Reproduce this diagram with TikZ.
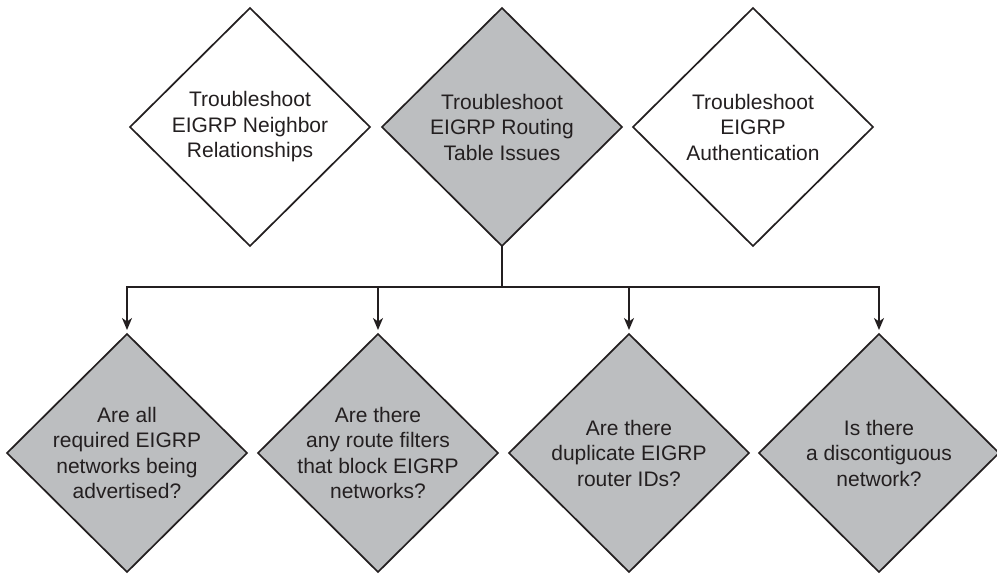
\documentclass[tikz,border=0pt]{standalone}
\usepackage{fontspec}
\setmainfont{Liberation Sans}
\usetikzlibrary{shapes.geometric,arrows.meta}
\definecolor{boxgray}{RGB}{188,190,192}
\definecolor{ink}{RGB}{35,31,32}
\tikzset{
  dia/.style={shape=diamond, draw=ink, line width=1.7pt, minimum width=240pt, minimum height=238pt,
    inner sep=0pt, outer sep=0pt, aspect=1},
  whitedia/.style={dia, fill=white},
  graydia/.style={dia, fill=boxgray},
  txt/.style={align=center, text=ink, font=\fontsize{21}{25.5}\selectfont, inner sep=0pt},
  conn/.style={draw=ink, line width=1.7pt},
  arr/.style={conn, -{Stealth[length=12pt,width=10pt,inset=3.5pt]}, shorten >=4pt}
}
\begin{document}
\begin{tikzpicture}[x=1pt,y=-1pt]
\useasboundingbox (0,0) rectangle (997,574);
\node[whitedia] (t1) at (250,127) {};
\node[graydia] (t2) at (502,127) {};
\node[whitedia] (t3) at (753,127) {};
\node[txt] (t1l) at (t1.center) {Troubleshoot\\EIGRP Neighbor\\Relationships};
\node[txt] (t2l) at (t2.center) {Troubleshoot\\EIGRP Routing\\Table Issues};
\node[txt] (t3l) at (t3.center) {Troubleshoot\\EIGRP\\Authentication};

\node[graydia] (b1) at (127,453) {};
\node[graydia] (b2) at (378,453) {};
\node[graydia] (b3) at (629,453) {};
\node[graydia] (b4) at (879,453) {};
\node[txt] (b1l) at (b1.center) {Are all\\required EIGRP\\networks being\\advertised?};
\node[txt] (b2l) at (b2.center) {Are there\\any route filters\\that block EIGRP\\networks?};
\node[txt] (b3l) at (b3.center) {Are there\\duplicate EIGRP\\router IDs?};
\node[txt] (b4l) at (b4.center) {Is there\\a discontiguous\\network?};

\coordinate (hub) at (502,287);
\draw[conn] (t2.south) -- (hub);
\draw[arr] (hub) -| (b1.north);
\draw[arr] (hub) -| (b4.north);
\draw[arr] (b2.north |- hub) -- (b2.north);
\draw[arr] (b3.north |- hub) -- (b3.north);
\end{tikzpicture}
\end{document}
